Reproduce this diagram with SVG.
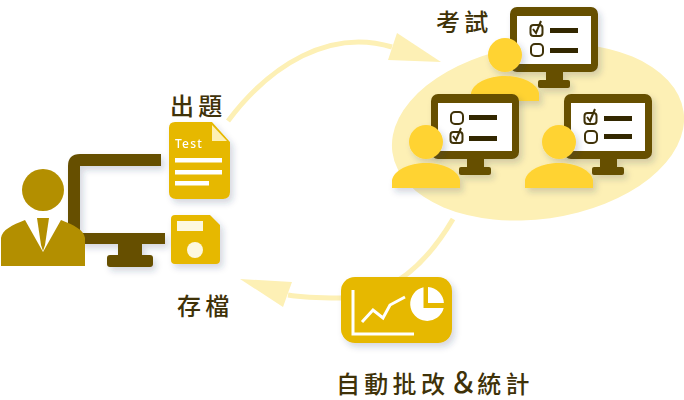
<svg xmlns="http://www.w3.org/2000/svg" width="684" height="400" viewBox="0 0 684 400">
<defs>
<style>
.lbl{font-family:"Noto Sans CJK TC","Noto Sans CJK JP",sans-serif;font-size:24px;fill:#3f3208;letter-spacing:4.300px;font-weight:500}
.dk{fill:#665000}
.scr{fill:#fff}
.bar{fill:#332800}
.box{fill:none;stroke:#3f3208;stroke-width:2}
.ppl{fill:#ffd333}
.au{fill:#e6b800}
.wh{fill:#fff}
.cur{fill:none;stroke:#fdf0b5;stroke-width:5}
.head{fill:#fdf0b5}
</style>
<filter id="sh" x="-20%" y="-20%" width="150%" height="150%"><feDropShadow dx="3" dy="4" stdDeviation="3" flood-color="#203060" flood-opacity="0.2"/></filter>
<g id="mon"><rect x="510" y="7" width="88" height="65" rx="7" class="dk"/><rect x="517" y="16" width="74" height="48" class="scr"/><rect x="546" y="72" width="17" height="9" class="dk"/><rect x="538" y="80" width="32" height="8" rx="2" class="dk"/></g>
<g id="usr"><circle cx="505" cy="55" r="17" class="ppl"/><path d="M471,101V93C473,83 488,76 505,76C522,76 537,83 539,93V101Z" class="ppl"/></g>
<g id="chk"><rect x="0.500" y="2" width="12" height="11" rx="3" class="box"/><path d="M3,6L6,10L11,-2" class="box"/></g>
<rect id="emp" x="0" y="0" width="12" height="12" rx="4" class="box"/>
</defs>
<ellipse cx="538" cy="132" rx="147" ry="87" transform="rotate(-8 538 132)" fill="#fdf0b5" id="blob"/>
<g id="connectors">
<path class="cur" d="M228,121C270,65 330,28 392,47"/>
<path class="head" d="M441,62L397,33L388,60Z"/>
<path class="cur" d="M453,219C430,258 395,298 340,298C322,298 305,298 288,295"/>
<path class="head" d="M240,279L292,282L283,307Z"/>
</g>
<g id="teacher">
<g filter="url(#sh)"><path class="dk" d="M161,154H80Q68,154 68,166V240H80V166H161Z"/><rect x="80" y="233" width="85" height="11" class="dk"/><rect x="118" y="244" width="24" height="12" class="dk"/><rect x="107" y="255" width="46" height="12" rx="3" class="dk"/></g>
<circle cx="43" cy="190" r="21" fill="#b38f00"/>
<path fill="#b38f00" d="M1,266V238C2,230 12,225 25,220L43,252L61,220C74,225 84,230 85,238V266Z"/>
<path fill="#b38f00" d="M37,218H49L45,245L43,251L41,245Z"/>
</g>
<g id="doc" filter="url(#sh)">
<path class="au" d="M175,122H210V142H230V192Q230,199 223,199H176Q169,199 169,192V128Q169,122 175,122Z"/>
<path class="au" d="M210,122H212L230,142H210Z"/>
<path fill="#fdf0b5" d="M212,125L227,141H212Z"/>
<text x="175" y="148" font-family="'Noto Sans',sans-serif" font-size="12" font-weight="500" letter-spacing="1.200" fill="#fff">Test</text>
<rect x="175" y="158" width="47" height="4.500" class="wh"/><rect x="175" y="170" width="47" height="4.500" class="wh"/><rect x="175" y="181" width="34" height="4.500" class="wh"/>
</g>
<g id="disk" filter="url(#sh)">
<path class="au" d="M175,215H210L220,225V260Q220,264 216,264H175Q171,264 171,260V219Q171,215 175,215Z"/>
<rect x="177" y="221" width="26" height="10" fill="#fdf8e0"/><circle cx="195" cy="250" r="8" fill="#fdf8e0"/>
</g>
<g id="exam-top"><use href="#mon" filter="url(#sh)"/><use href="#chk" x="530" y="23"/><use href="#emp" x="531" y="44"/><rect x="550" y="28" width="28" height="5" class="bar"/><rect x="550" y="48" width="28" height="5" class="bar"/><use href="#usr" filter="url(#sh)"/></g>
<g id="exam-left"><use href="#mon" x="-79" y="87" filter="url(#sh)"/><use href="#emp" x="451" y="112"/><use href="#chk" x="450" y="130"/><rect x="469" y="115" width="28" height="5" class="bar"/><rect x="469" y="136" width="28" height="5" class="bar"/><use href="#usr" x="-79" y="87" filter="url(#sh)"/></g>
<g id="exam-right"><use href="#mon" x="54" y="87" filter="url(#sh)"/><use href="#chk" x="584" y="111"/><use href="#emp" x="585" y="131"/><rect x="604" y="116" width="28" height="5" class="bar"/><rect x="604" y="134" width="28" height="5" class="bar"/><use href="#usr" x="54" y="87" filter="url(#sh)"/></g>
<g id="chart"><rect x="341" y="277" width="111" height="66" rx="14" class="au" filter="url(#sh)"/>
<path d="M353,290V334H414" fill="none" stroke="#fff" stroke-width="3"/>
<path d="M362,322L373,310L383,318L390,305L405,297" fill="none" stroke="#fff" stroke-width="3"/>
<path class="wh" d="M423.500,287.300A17,17 0 1 0 443.700,308H423.500Z"/><path class="wh" d="M428,287.100V303H443.900A17,17 0 0 0 428,287.100Z"/>
</g>
<text class="lbl" x="170" y="115" id="t1">出題</text>
<text class="lbl" x="436" y="31" id="t2">考試</text>
<text class="lbl" x="177" y="315" id="t3">存檔</text>
<text class="lbl" x="336" y="393" id="t4">自動批改<tspan font-size="28" letter-spacing="0">＆</tspan>統計</text>
</svg>
